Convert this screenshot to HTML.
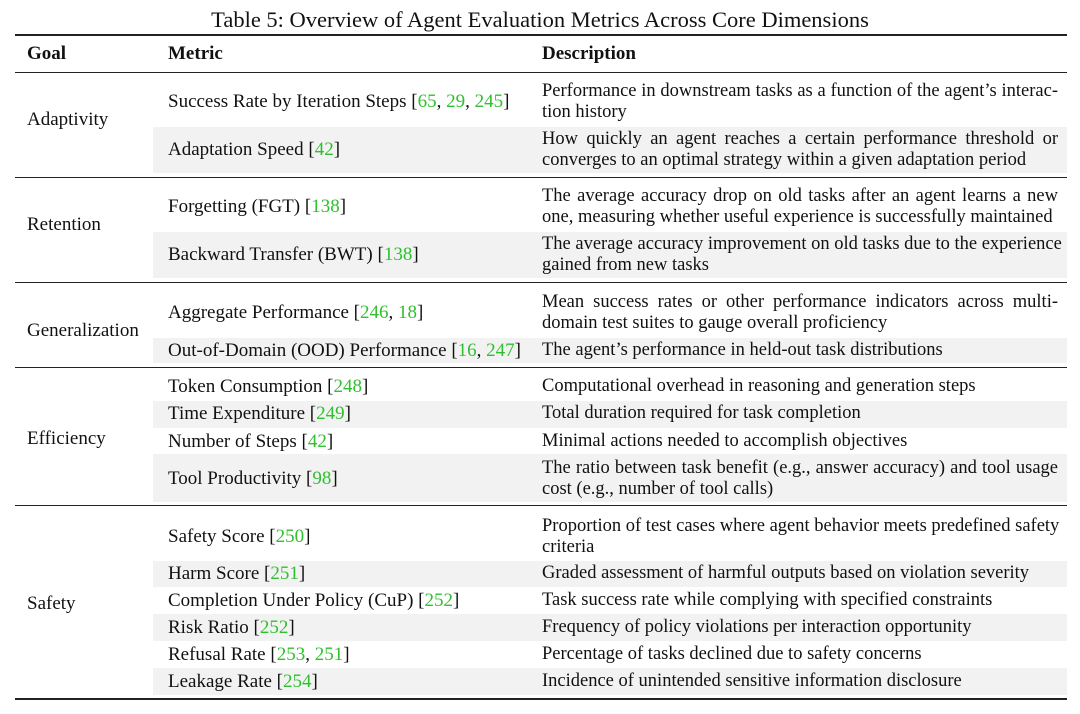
<!DOCTYPE html>
<html><head><meta charset="utf-8"><style>
body{margin:0;width:1080px;height:714px;background:#fff;position:relative;overflow:hidden;font-family:"Liberation Serif",serif;color:#111}
.t{position:absolute;white-space:nowrap;font-size:18.5px;line-height:21px}
.m{font-size:19px}
.j{width:516px;text-align:justify;text-align-last:justify}
.b{position:absolute;left:153px;width:914px;background:#f2f2f2}
.r{position:absolute;left:15px;width:1052px;background:#222}
.g{color:#2fc02f}
</style></head><body>
<div class="t" style="left:0;width:1080px;text-align:center;top:7px;font-size:22.5px;line-height:25px">Table 5: Overview of Agent Evaluation Metrics Across Core Dimensions</div>
<div class="r" style="top:34px;height:2px"></div>
<div class="r" style="top:72px;height:1px"></div>
<div class="r" style="top:177px;height:1px"></div>
<div class="r" style="top:282px;height:1px"></div>
<div class="r" style="top:367px;height:1px"></div>
<div class="r" style="top:505px;height:1px"></div>
<div class="r" style="top:698px;height:2px"></div>

<div class="b" style="top:127px;height:46px"></div>
<div class="b" style="top:232px;height:46px"></div>
<div class="b" style="top:338px;height:25px"></div>
<div class="b" style="top:401px;height:27px"></div>
<div class="b" style="top:454px;height:48px"></div>
<div class="b" style="top:561px;height:26px"></div>
<div class="b" style="top:614px;height:27px"></div>
<div class="b" style="top:668px;height:27px"></div>

<div class="t m" style="left:27px;top:43px;font-weight:bold">Goal</div>
<div class="t m" style="left:168px;top:43px;font-weight:bold">Metric</div>
<div class="t m" style="left:542px;top:43px;font-weight:bold">Description</div>

<div class="t m" style="left:27px;top:109px">Adaptivity</div>
<div class="t m" style="left:168px;top:91px">Success Rate by Iteration Steps [<span class="g">65</span>, <span class="g">29</span>, <span class="g">245</span>]</div>
<div class="t j" style="left:542px;top:81px">Performance in downstream tasks as a function of the agent’s interac-</div>
<div class="t" style="left:542px;top:102px">tion history</div>
<div class="t m" style="left:168px;top:139px">Adaptation Speed [<span class="g">42</span>]</div>
<div class="t j" style="left:542px;top:129px">How quickly an agent reaches a certain performance threshold or</div>
<div class="t" style="left:542px;top:150px">converges to an optimal strategy within a given adaptation period</div>

<div class="t m" style="left:27px;top:214px">Retention</div>
<div class="t m" style="left:168px;top:196px">Forgetting (FGT) [<span class="g">138</span>]</div>
<div class="t j" style="left:542px;top:186px">The average accuracy drop on old tasks after an agent learns a new</div>
<div class="t" style="left:542px;top:207px">one, measuring whether useful experience is successfully maintained</div>
<div class="t m" style="left:168px;top:244px">Backward Transfer (BWT) [<span class="g">138</span>]</div>
<div class="t j" style="left:542px;top:234px">The average accuracy improvement on old tasks due to the experience</div>
<div class="t" style="left:542px;top:255px">gained from new tasks</div>

<div class="t m" style="left:27px;top:320px">Generalization</div>
<div class="t m" style="left:168px;top:302px">Aggregate Performance [<span class="g">246</span>, <span class="g">18</span>]</div>
<div class="t j" style="left:542px;top:292px">Mean success rates or other performance indicators across multi-</div>
<div class="t" style="left:542px;top:313px">domain test suites to gauge overall proficiency</div>
<div class="t m" style="left:168px;top:340px">Out-of-Domain (OOD) Performance [<span class="g">16</span>, <span class="g">247</span>]</div>
<div class="t" style="left:542px;top:340px">The agent’s performance in held-out task distributions</div>

<div class="t m" style="left:27px;top:428px">Efficiency</div>
<div class="t m" style="left:168px;top:376px">Token Consumption [<span class="g">248</span>]</div>
<div class="t" style="left:542px;top:376px">Computational overhead in reasoning and generation steps</div>
<div class="t m" style="left:168px;top:403px">Time Expenditure [<span class="g">249</span>]</div>
<div class="t" style="left:542px;top:403px">Total duration required for task completion</div>
<div class="t m" style="left:168px;top:431px">Number of Steps [<span class="g">42</span>]</div>
<div class="t" style="left:542px;top:431px">Minimal actions needed to accomplish objectives</div>
<div class="t m" style="left:168px;top:468px">Tool Productivity [<span class="g">98</span>]</div>
<div class="t j" style="left:542px;top:458px">The ratio between task benefit (e.g., answer accuracy) and tool usage</div>
<div class="t" style="left:542px;top:479px">cost (e.g., number of tool calls)</div>

<div class="t m" style="left:27px;top:593px">Safety</div>
<div class="t m" style="left:168px;top:526px">Safety Score [<span class="g">250</span>]</div>
<div class="t j" style="left:542px;top:516px">Proportion of test cases where agent behavior meets predefined safety</div>
<div class="t" style="left:542px;top:537px">criteria</div>
<div class="t m" style="left:168px;top:563px">Harm Score [<span class="g">251</span>]</div>
<div class="t" style="left:542px;top:563px">Graded assessment of harmful outputs based on violation severity</div>
<div class="t m" style="left:168px;top:590px">Completion Under Policy (CuP) [<span class="g">252</span>]</div>
<div class="t" style="left:542px;top:590px">Task success rate while complying with specified constraints</div>
<div class="t m" style="left:168px;top:617px">Risk Ratio [<span class="g">252</span>]</div>
<div class="t" style="left:542px;top:617px">Frequency of policy violations per interaction opportunity</div>
<div class="t m" style="left:168px;top:644px">Refusal Rate [<span class="g">253</span>, <span class="g">251</span>]</div>
<div class="t" style="left:542px;top:644px">Percentage of tasks declined due to safety concerns</div>
<div class="t m" style="left:168px;top:671px">Leakage Rate [<span class="g">254</span>]</div>
<div class="t" style="left:542px;top:671px">Incidence of unintended sensitive information disclosure</div>
</body></html>
